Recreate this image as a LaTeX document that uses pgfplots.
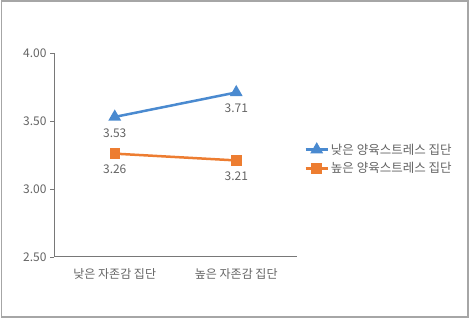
\documentclass[border=0pt]{standalone}
\usepackage{fontspec}
\setmainfont{Noto Sans CJK KR}
\usepackage{pgfplots}
\pgfplotsset{compat=1.18}
\definecolor{bl}{RGB}{74,138,208}
\definecolor{orx}{RGB}{237,125,49}
\definecolor{txt}{RGB}{100,100,100}
\definecolor{axl}{RGB}{120,120,120}
\begin{document}
\begin{tikzpicture}[x=1pt,y=1pt]
\useasboundingbox (0,0) rectangle (471,320);
\draw[gray!70, line width=1.2pt] (1.5,3) rectangle (468,319);
\begin{axis}[
  at={(54pt,63pt)}, anchor=south west,
  scale only axis, width=243pt, height=204pt,
  xmin=0.5, xmax=2.5, ymin=2.5, ymax=4.0,
  axis lines*=left,
  axis line style={axl, line width=1pt},
  xtick={1,2}, xticklabels={낮은 자존감 집단, 높은 자존감 집단},
  x tick style={draw=none},
  ytick={2.5,3.0,3.5,4.0},
  y tick style={axl, line width=0.8pt},
  tick align=outside, major tick length=4pt,
  yticklabel style={/pgf/number format/.cd, fixed, fixed zerofill, precision=2},
  /pgf/number format/assume math mode=true,
  tick label style={font=\fontsize{12}{14}\selectfont, text=txt},
  xticklabel style={yshift=-4pt},
  clip=false,
  legend style={draw=none, at={(1.03,0.48)}, anchor=west,
    font=\fontsize{12.5}{14}\selectfont, text=txt,
    row sep=3pt, inner sep=0pt},
  legend cell align=left,
  legend image code/.code={
    \draw[#1, mark=none] (0cm,0cm) -- (22pt,0cm);
    \draw[#1, only marks] plot coordinates {(11pt,0cm)};
  },
  nodes near coords,
  every node near coord/.append style={font=\fontsize{12}{14}\selectfont, text=txt, anchor=north, yshift=-7pt,
    /pgf/number format/.cd, fixed, fixed zerofill, precision=2, assume math mode=true},
]
\addplot[bl, line width=2.5pt, mark=triangle*, mark size=5pt, mark options={solid}] coordinates {(1,3.53) (2,3.71)};
\addlegendentry{낮은 양육스트레스 집단}
\addplot[orx, line width=2.5pt, mark=square*, mark size=4pt] coordinates {(1,3.26) (2,3.21)};
\addlegendentry{높은 양육스트레스 집단}
\end{axis}
\end{tikzpicture}
\end{document}
